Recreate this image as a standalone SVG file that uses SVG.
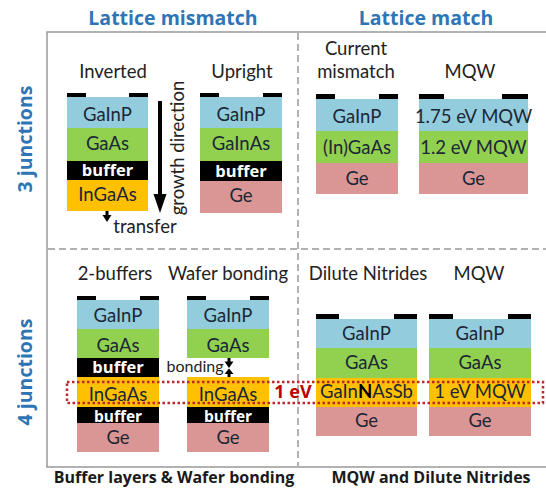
<svg xmlns="http://www.w3.org/2000/svg" width="546" height="493" viewBox="0 0 546 493">
<style>
.gainp{fill:#93CDDD}
.gaas{fill:#92D050}
.buf{fill:#000}
.ingaas{fill:#FFC000}
.ge{fill:#D99694}
.ct{fill:#000}
.lt{font-family:Lato,"Liberation Sans",sans-serif;font-size:18.5px;fill:#1c2736;text-anchor:middle}
.bt{font-family:"Open Sans","Liberation Sans",sans-serif;font-size:16.5px;font-weight:bold;fill:#fff;text-anchor:middle}
.lab{font-family:Lato,"Liberation Sans",sans-serif;font-size:18.5px;fill:#222;text-anchor:middle}
.title{font-family:"Open Sans","Liberation Sans",sans-serif;font-size:19.5px;font-weight:bold;fill:#2E75B6;text-anchor:middle}
.foot{font-family:"Open Sans","Liberation Sans",sans-serif;font-size:16px;font-weight:bold;fill:#1a1a1a;text-anchor:middle}
.frame{fill:none;stroke:#999;stroke-width:1.5}
.dash{fill:none;stroke:#999;stroke-width:1.5;stroke-dasharray:7 4}
.red{fill:none;stroke:#C0272D;stroke-width:2.5;stroke-dasharray:2.5 2.5}
</style>

<!-- frame -->
<g id="frame">
<polyline class="frame" points="546,32 47,32 47,467 546,467"/>
<line class="dash" x1="298" y1="33" x2="298" y2="466"/>
<line class="dash" x1="48" y1="249" x2="546" y2="249"/>
</g>

<g id="titles">
<text class="title" x="173" y="25">Lattice mismatch</text>
<text class="title" x="426" y="25">Lattice match</text>
<text class="title" transform="translate(32,139) rotate(-90)">3 junctions</text>
<text class="title" transform="translate(32,372) rotate(-90)">4 junctions</text>
<text class="foot" x="174" y="483">Buffer layers &amp; Wafer bonding</text>
<text class="foot" x="431" y="483">MQW and Dilute Nitrides</text>
</g>

<!-- 3J Inverted -->
<g id="inverted">
<text class="lab" x="113" y="78">Inverted</text>
<rect class="ct" x="67" y="93" width="19" height="4.5"/>
<rect class="ct" x="129" y="93" width="19" height="4.5"/>
<rect class="gainp" x="67" y="97" width="81" height="31"/>
<rect class="gaas" x="67" y="128" width="81" height="33"/>
<rect class="buf" x="67" y="161" width="81" height="19"/>
<rect class="ingaas" x="67" y="180" width="81" height="31"/>
<text class="lt" x="107.5" y="121">GaInP</text>
<text class="lt" x="107.5" y="150">GaAs</text>
<text class="bt" x="107.5" y="176">buffer</text>
<text class="lt" x="107.5" y="201">InGaAs</text>
<text class="lab" x="145" y="233">transfer</text>
<text class="lab" transform="translate(184,148) rotate(-90)">growth direction</text>
</g>

<!-- 3J Upright -->
<g id="upright">
<text class="lab" x="242" y="78">Upright</text>
<rect class="ct" x="200" y="93" width="19" height="4.5"/>
<rect class="ct" x="263" y="93" width="19" height="4.5"/>
<rect class="gainp" x="200" y="97" width="82" height="31"/>
<rect class="gaas" x="200" y="128" width="82" height="33"/>
<rect class="buf" x="200" y="161" width="82" height="20"/>
<rect class="ge" x="200" y="181" width="82" height="32"/>
<text class="lt" x="241" y="121">GaInP</text>
<text class="lt" x="241" y="150">GaInAs</text>
<text class="bt" x="241" y="177">buffer</text>
<text class="lt" x="241" y="202">Ge</text>
</g>

<!-- 3J Current mismatch -->
<g id="current-mismatch">
<text class="lab" x="356" y="55">Current</text>
<text class="lab" x="356" y="78">mismatch</text>
<rect class="ct" x="316" y="94" width="19" height="5"/>
<rect class="ct" x="379" y="94" width="19" height="5"/>
<rect class="gainp" x="316" y="99" width="82" height="32"/>
<rect class="gaas" x="316" y="131" width="82" height="32"/>
<rect class="ge" x="316" y="163" width="82" height="31"/>
<text class="lt" x="357" y="123">GaInP</text>
<text class="lt" x="357" y="154">(In)GaAs</text>
<text class="lt" x="357" y="185">Ge</text>
</g>

<!-- 3J MQW -->
<g id="mqw-3j">
<text class="lab" x="470" y="78">MQW</text>
<rect class="ct" x="419" y="94" width="25" height="5"/>
<rect class="ct" x="502" y="94" width="26" height="5"/>
<rect class="gainp" x="419" y="99" width="109" height="32"/>
<rect class="gaas" x="419" y="131" width="109" height="32"/>
<rect class="ge" x="419" y="163" width="109" height="31"/>
<text class="lt" x="473.5" y="123">1.75 eV MQW</text>
<text class="lt" x="473.5" y="154">1.2 eV MQW</text>
<text class="lt" x="473.5" y="185">Ge</text>
</g>

<!-- 4J 2-buffers -->
<g id="two-buffers">
<text class="lab" x="115" y="280">2-buffers</text>
<rect class="ct" x="77" y="296" width="19" height="4.5"/>
<rect class="ct" x="140" y="296" width="19" height="4.5"/>
<rect class="gainp" x="77" y="300" width="82" height="29"/>
<rect class="gaas" x="77" y="329" width="82" height="29"/>
<rect class="buf" x="77" y="358" width="82" height="19"/>
<rect class="ingaas" x="77" y="377" width="82" height="30"/>
<rect class="buf" x="77" y="407" width="82" height="16"/>
<rect class="ge" x="77" y="423" width="82" height="29"/>
<text class="lt" x="118" y="322">GaInP</text>
<text class="lt" x="118" y="352">GaAs</text>
<text class="bt" x="118" y="373">buffer</text>
<text class="lt" x="118" y="400.5">InGaAs</text>
<text class="bt" x="118" y="421.5" style="font-size:15.5px">buffer</text>
<text class="lt" x="118" y="444">Ge</text>
</g>

<!-- 4J Wafer bonding -->
<g id="wafer-bonding">
<text class="lab" x="228" y="280">Wafer bonding</text>
<rect class="ct" x="187" y="296" width="19" height="4.5"/>
<rect class="ct" x="250" y="296" width="19" height="4.5"/>
<rect class="gainp" x="187" y="300" width="82" height="29"/>
<rect class="gaas" x="187" y="329" width="82" height="29"/>
<rect class="ingaas" x="187" y="377" width="82" height="30"/>
<rect class="buf" x="187" y="407" width="82" height="16"/>
<rect class="ge" x="187" y="423" width="82" height="29"/>
<text class="lt" x="228" y="322">GaInP</text>
<text class="lt" x="228" y="352">GaAs</text>
<text class="lt" x="228" y="400.5">InGaAs</text>
<text class="bt" x="228" y="421.5" style="font-size:15.5px">buffer</text>
<text class="lt" x="228" y="444">Ge</text>
<text class="lab" x="195" y="372" style="font-size:16px">bonding</text>
</g>

<!-- 4J Dilute nitrides -->
<g id="dilute-nitrides">
<text class="lab" x="368" y="280">Dilute Nitrides</text>
<rect class="ct" x="316" y="314" width="23" height="5"/>
<rect class="ct" x="394" y="314" width="23" height="5"/>
<rect class="gainp" x="316" y="319" width="101" height="29"/>
<rect class="gaas" x="316" y="348" width="101" height="30"/>
<rect class="ingaas" x="316" y="378" width="101" height="29"/>
<rect class="ge" x="316" y="407" width="101" height="29"/>
<text class="lt" x="366.5" y="340">GaInP</text>
<text class="lt" x="366.5" y="369">GaAs</text>
<text class="lt" x="366.5" y="398">GaIn<tspan font-weight="bold" fill="#000">N</tspan>AsSb</text>
<text class="lt" x="366.5" y="427">Ge</text>
</g>

<!-- 4J MQW -->
<g id="mqw-4j">
<text class="lab" x="479" y="280">MQW</text>
<rect class="ct" x="429" y="314" width="24" height="5"/>
<rect class="ct" x="508" y="314" width="23" height="5"/>
<rect class="gainp" x="429" y="319" width="102" height="29"/>
<rect class="gaas" x="429" y="348" width="102" height="30"/>
<rect class="ingaas" x="429" y="378" width="102" height="29"/>
<rect class="ge" x="429" y="407" width="102" height="29"/>
<text class="lt" x="480" y="340">GaInP</text>
<text class="lt" x="480" y="369">GaAs</text>
<text class="lt" x="480" y="398">1 eV MQW</text>
<text class="lt" x="480" y="427">Ge</text>
</g>

<!-- 1 eV highlight -->
<g id="one-ev">
<rect class="red" x="67" y="382" width="476" height="21"/>
<text x="293" y="398" style="font-family:'Open Sans','Liberation Sans',sans-serif;font-size:18px;font-weight:bold;fill:#C00000;text-anchor:middle">1 eV</text>
</g>

<!-- connectors -->
<g id="connectors" fill="#000">
<rect x="158" y="101" width="4" height="95"/>
<polygon points="153.5,194 166.5,194 160,213"/>
<rect x="105.5" y="211" width="3" height="5"/>
<polygon points="102.5,215 111.5,215 107,222"/>
<rect x="227.5" y="358" width="3" height="4"/>
<polygon points="224.5,361.5 233.5,361.5 229,368"/>
<rect x="227.5" y="373" width="3" height="4"/>
<polygon points="224.5,374 233.5,374 229,368.5"/>
</g>
</svg>
